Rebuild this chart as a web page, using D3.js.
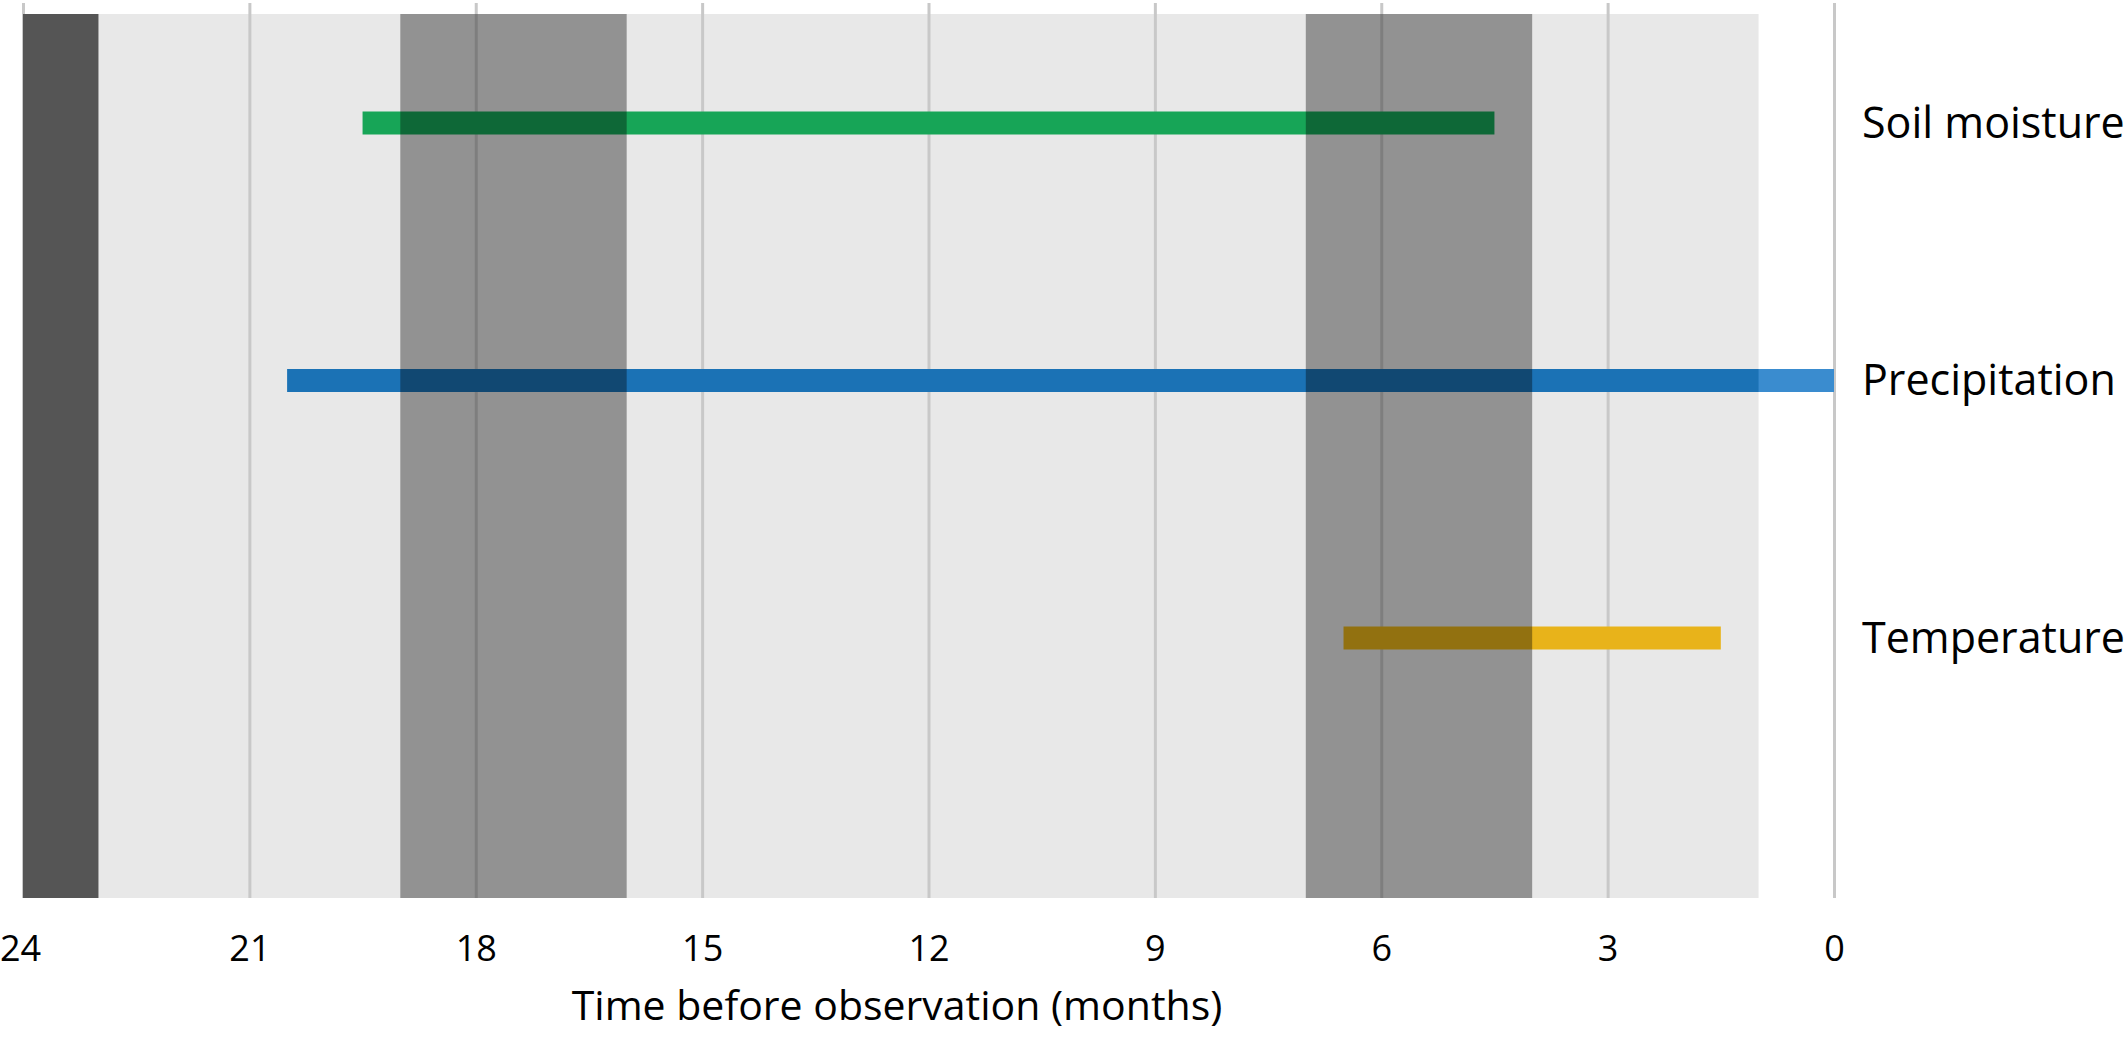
<!DOCTYPE html>
<html>
<head>
<meta charset="utf-8">
<script src="https://cdn.jsdelivr.net/npm/d3@7"></script>
<style>
  html, body { margin: 0; padding: 0; background: #ffffff; }
  svg { display: block; }
  text { font-family: "Open Sans", "Noto Sans", sans-serif; fill: #000; }
</style>
</head>
<body>
<svg id="chart" width="2128" height="1037"></svg>
<script>
// ---- data ----
const series = ["Soil moisture", "Precipitation", "Temperature"];
const seriesStart = [19.5, 20.5, 6.5];   // months before observation
const seriesEnd = [4.5, 0, 1.5];
const seriesColors = ["#17a557", "#1b72b5", "#e8b31a"];
const seriesOuterColors = ["#2fbf6e", "#3a8ccf", "#f2c440"];

const backgroundSpan = [24, 1];          // light grey window
const darkSpan = [24, 23];               // dark grey window
const bandStarts = [19, 7];              // darker grey windows
const bandEnds = [16, 4];

const tickValues = [24, 21, 18, 15, 12, 9, 6, 3, 0];
const xTitle = "Time before observation (months)";

// ---- layout ----
const W = 2128, H = 1037;
const plotLeft = 23, plotRight = 1834, plotTop = 14, plotBottom = 898;

const svg = d3.select("#chart");
const x = d3.scaleLinear().domain([24, 0]).range([plotLeft, plotRight]);
const y = d3.scalePoint().domain(series).range([123, 638]);
const barH = 23;

// background
svg.append("rect")
  .attr("x", x(backgroundSpan[0])).attr("y", plotTop)
  .attr("width", x(backgroundSpan[1]) - x(backgroundSpan[0]))
  .attr("height", plotBottom - plotTop)
  .attr("fill", "#e8e8e8");

// gridlines via axis
const grid = svg.append("g").attr("transform", `translate(0,${plotBottom})`)
  .call(d3.axisBottom(x).tickValues(tickValues).tickSize(-(plotBottom - 3)).tickFormat(""));
grid.select(".domain").remove();
grid.selectAll(".tick line").attr("stroke", "#c8c8c8").attr("stroke-width", 3);

// bars
const barData = series.map((s, i) => ({ s, a: seriesStart[i], b: seriesEnd[i], c: seriesColors[i], oc: seriesOuterColors[i] }));
svg.append("g").selectAll("rect").data(barData).join("rect")
  .attr("x", d => x(d.a)).attr("y", d => y(d.s) - barH / 2)
  .attr("width", d => x(d.b) - x(d.a)).attr("height", barH)
  .attr("fill", d => d.c);

// portion of bars beyond the grey window (drawn lighter)
svg.append("g").selectAll("rect")
  .data(barData.filter(d => d.b < backgroundSpan[1]))
  .join("rect")
  .attr("x", x(backgroundSpan[1])).attr("y", d => y(d.s) - barH / 2)
  .attr("width", d => x(d.b) - x(backgroundSpan[1])).attr("height", barH)
  .attr("fill", d => d.oc);

// translucent darker bands
svg.append("g").selectAll("rect").data(bandStarts.map((a, i) => [a, bandEnds[i]])).join("rect")
  .attr("x", d => x(d[0])).attr("y", plotTop)
  .attr("width", d => x(d[1]) - x(d[0])).attr("height", plotBottom - plotTop)
  .attr("fill", "rgba(0,0,0,0.37)");

// dark band
svg.append("rect")
  .attr("x", x(darkSpan[0])).attr("y", plotTop)
  .attr("width", x(darkSpan[1]) - x(darkSpan[0])).attr("height", plotBottom - plotTop)
  .attr("fill", "#555555");

// tick labels
const axis = svg.append("g").attr("transform", `translate(0,${plotBottom})`)
  .call(d3.axisBottom(x).tickValues(tickValues).tickSize(0).tickPadding(0).tickFormat(d3.format("d")));
axis.select(".domain").remove();
axis.selectAll(".tick text")
  .attr("y", 53).attr("dy", null)
  .attr("dominant-baseline", "middle")
  .style("font-family", "'Open Sans', sans-serif")
  .style("font-size", "36px").attr("fill", "#000");
axis.selectAll(".tick").filter(d => d === 24).select("text").attr("dx", -3);

// series labels
svg.append("g").selectAll("text").data(series).join("text")
  .attr("x", 1862).attr("y", d => y(d) + 3)
  .attr("dominant-baseline", "middle")
  .style("font-size", "43px")
  .text(d => d);

// x title
svg.append("text")
  .attr("x", 897).attr("y", 1009)
  .attr("text-anchor", "middle").attr("dominant-baseline", "middle")
  .style("font-size", "41px")
  .text(xTitle);
</script>
</body>
</html>
